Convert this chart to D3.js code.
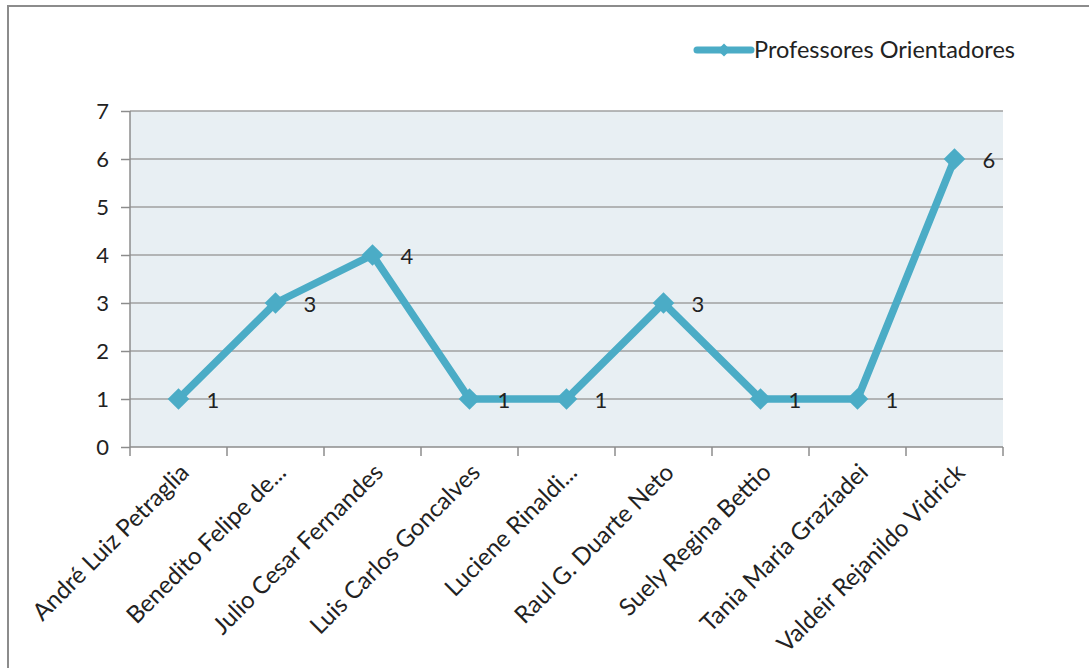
<!DOCTYPE html>
<html>
<head>
<meta charset="utf-8">
<script src="https://cdn.jsdelivr.net/npm/d3@7"></script>
<style>
  body { margin: 0; background: #fff; }
  text { font-family: Lato, "Open Sans", sans-serif; fill: #222; }
</style>
</head>
<body>
<div id="chart-area"></div>
<script>
// data
var categories = ["André Luiz Petraglia", "Benedito Felipe de...", "Julio Cesar Fernandes",
  "Luis Carlos Goncalves", "Luciene Rinaldi...", "Raul G. Duarte Neto",
  "Suely Regina Bettio", "Tania Maria Graziadei", "Valdeir Rejanildo Vidrick"]
var values = [1, 3, 4, 1, 1, 3, 1, 1, 6]
var seriesName = "Professores Orientadores"
var yTicks = [0, 1, 2, 3, 4, 5, 6, 7]

var W = 1089, H = 668
var margin = {top: 111, left: 130, right: 86, bottom: 221}
var width = W - margin.left - margin.right
var height = H - margin.top - margin.bottom
var lineColor = "#4bacc6"

var svg = d3.select("#chart-area").append("svg")
    .attr("width", W)
    .attr("height", H)

// outer frame (right and bottom run off the picture)
svg.append("path")
    .attr("d", "M8,700 L8,6 L1100,6")
    .attr("fill", "none")
    .attr("stroke", "#8c8c8c")
    .attr("stroke-width", 2)

var g = svg.append("g")
    .attr("transform", "translate(" + margin.left + "," + margin.top + ")")

var x = d3.scaleBand().domain(categories).range([0, width])
var y = d3.scaleLinear().domain([0, 7]).range([height, 0])

// plot background
g.append("rect")
    .attr("width", width)
    .attr("height", height)
    .attr("fill", "#e8eff3")

// gridlines
g.selectAll(".grid").data(yTicks.slice(1)).enter()
  .append("line")
    .attr("x1", 0).attr("x2", width)
    .attr("y1", d => y(d)).attr("y2", d => y(d))
    .attr("stroke", "#a0a0a0")
    .attr("stroke-width", 1.5)

// y axis
var yAxis = g.append("g")
    .call(d3.axisLeft(y).tickValues(yTicks).tickFormat(d3.format("d")).tickSize(9).tickPadding(12))
yAxis.selectAll("line, path").attr("stroke", "#8c8c8c").attr("stroke-width", 1.5)
yAxis.select(".domain").attr("d", "M0," + height + "V0")
yAxis.selectAll("text").attr("font-size", "22px").attr("font-family", "Lato, sans-serif").attr("fill", "#222")

// x axis (ticks on category boundaries)
var xAxis = g.append("g").attr("transform", "translate(0," + height + ")")
xAxis.append("line").attr("x1", 0).attr("x2", width)
    .attr("stroke", "#8c8c8c").attr("stroke-width", 1.5)
var bounds = categories.map(c => x(c)).concat([width])
xAxis.selectAll(".tk").data(bounds).enter().append("line")
    .attr("x1", d => d).attr("x2", d => d)
    .attr("y1", 0).attr("y2", 9)
    .attr("stroke", "#8c8c8c").attr("stroke-width", 1.5)
xAxis.selectAll(".lbl").data(categories).enter().append("text")
    .attr("transform", d => "translate(" + (x(d) + x.bandwidth() / 2 + 12) + ",27) rotate(-45)")
    .attr("text-anchor", "end")
    .attr("font-size", "24px")
    .text(d => d)

// line
var cx = (d, i) => x(categories[i]) + x.bandwidth() / 2
var line = d3.line().x(cx).y(d => y(d))
g.append("path")
    .datum(values)
    .attr("d", line)
    .attr("fill", "none")
    .attr("stroke", lineColor)
    .attr("stroke-width", 7.5)
    .attr("stroke-linejoin", "round")

// diamond markers
var diamond = d3.symbol().type(d3.symbolDiamond2).size(300)
g.selectAll(".mk").data(values).enter().append("path")
    .attr("d", diamond)
    .attr("transform", (d, i) => "translate(" + cx(d, i) + "," + y(d) + ")")
    .attr("fill", lineColor)

// data labels
g.selectAll(".dl").data(values).enter().append("text")
    .attr("x", (d, i) => cx(d, i) + 28)
    .attr("y", d => y(d) + 9)
    .attr("font-size", "22px")
    .text(d => d)

// legend
var lg = svg.append("g").attr("transform", "translate(697,50)")
lg.append("line").attr("x1", 0).attr("x2", 54)
    .attr("stroke", lineColor).attr("stroke-width", 7).attr("stroke-linecap", "round")
lg.append("path").attr("d", d3.symbol().type(d3.symbolDiamond2).size(110))
    .attr("transform", "translate(27,0)").attr("fill", lineColor)
lg.append("text").attr("x", 57).attr("y", 8).attr("font-size", "23.5px").text(seriesName)
</script>
</body>
</html>
